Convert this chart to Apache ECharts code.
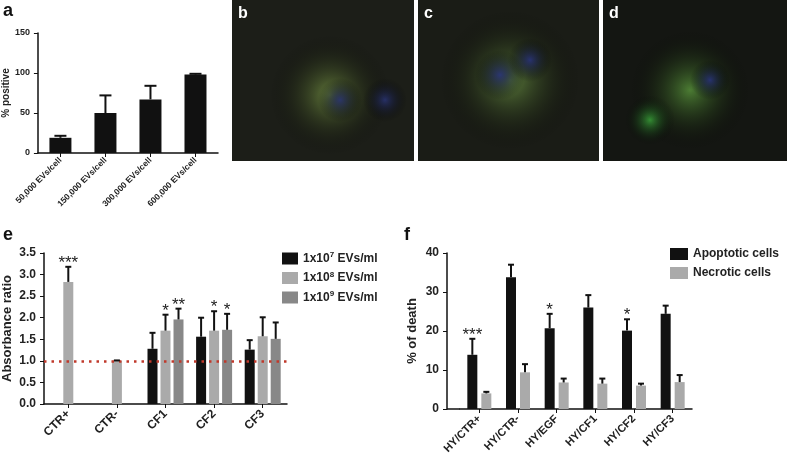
<!DOCTYPE html>
<html><head><meta charset="utf-8">
<script src="https://cdn.jsdelivr.net/npm/echarts@6/dist/echarts.min.js"></script>
<style>html,body{margin:0;padding:0;background:#fff}#c{width:787px;height:461px}</style>
</head><body><div id="c"></div>
<script>
// Panel a
var aCats = ['50,000 EVs/cell','150,000 EVs/cell','300,000 EVs/cell','600,000 EVs/cell'];
var aMean = [19, 50, 67, 98];
var aErr  = [21.5, 72, 84, 99];
// Panel e
var eCats = ['CTR+','CTR-','CF1','CF2','CF3'];
var eNames = ['1x10{s|7} EVs/ml','1x10{s|8} EVs/ml','1x10{s|9} EVs/ml'];
var eMean = [[null,null,1.28,1.56,1.26],[2.83,1.0,1.70,1.70,1.57],[null,null,1.96,1.72,1.51]];
var eErr  = [[null,null,1.65,2.00,1.48],[3.18,1.01,2.07,2.15,2.01],[null,null,2.21,2.09,1.89]];
var eStars= [['','','','',''],['***','','*','*',''],['','','**','*','']];
// Panel f
var fCats = ['HY/CTR+','HY/CTR-','HY/EGF','HY/CF1','HY/CF2','HY/CF3'];
var fNames = ['Apoptotic cells','Necrotic cells'];
var fMean = [[13.9,33.8,20.7,26.0,20.1,24.4],[4.0,9.4,6.8,6.5,6.0,6.9]];
var fErr  = [[18.0,37.0,24.4,29.2,23.0,26.5],[4.4,11.5,7.8,7.8,6.5,8.7]];
var fStars= [['***','','*','','*',''],['','','','','','']];

var F = 'Liberation Sans, Arial, sans-serif';
var eCol = ['#111','#aaaaaa','#888888'];
var fCol = ['#111','#aaaaaa'];

function errSeries(name, xi, yi, means, errs, stars, offset, cap, color) {
  var data = [];
  means.forEach(function(m,i){ if(m!=null) data.push([i,m,errs[i],stars?stars[i]:'']); });
  return {
    type:'custom', name:name+'_err', xAxisIndex:xi, yAxisIndex:yi, z:5, silent:true,
    data:data,
    renderItem:function(params, api){
      var p0 = api.coord([api.value(0), api.value(1)]);
      var p1 = api.coord([api.value(0), api.value(2)]);
      var x = p0[0]+offset;
      var st = data[params.dataIndex][3];
      var ch = [
        {type:'line', shape:{x1:x,y1:p0[1],x2:x,y2:p1[1]}, style:{stroke:color,lineWidth:2}},
        {type:'line', shape:{x1:x-cap/2,y1:p1[1],x2:x+cap/2,y2:p1[1]}, style:{stroke:color,lineWidth:2}}
      ];
      if (st) ch.push({type:'text', style:{text:st,x:x,y:p1[1]+5,align:'center',verticalAlign:'bottom',font:'17px '+F,fill:'#222'}});
      return {type:'group', children:ch};
    }
  };
}

var axisLbl = {color:'#222', fontFamily:F, fontWeight:'bold', fontSize:10};
var axLine = {show:true, lineStyle:{color:'#111', width:1.5}};
var series = [];

series.push({type:'bar', name:'a', xAxisIndex:0, yAxisIndex:0, data:aMean, barWidth:22, itemStyle:{color:'#111'}});
series.push(errSeries('a',0,0,aMean,aErr,null,0,12,'#111'));
for (var k=0;k<3;k++){
  series.push({type:'bar', name:eNames[k], xAxisIndex:1, yAxisIndex:1, data:eMean[k], barWidth:10, barGap:'30%', itemStyle:{color:eCol[k]}});
}
for (var k=0;k<3;k++){
  series.push(errSeries('e'+k,1,1,eMean[k],eErr[k],eStars[k],(k-1)*13,6,'#111'));
}
series[2].markLine = {silent:true, symbol:'none', label:{show:false},
  lineStyle:{color:'#c0392b', type:[2.5,5], width:2.5}, data:[{yAxis:1}]};
for (var k=0;k<2;k++){
  series.push({type:'bar', name:fNames[k], xAxisIndex:2, yAxisIndex:2, data:fMean[k], barWidth:10, barGap:'40%', itemStyle:{color:fCol[k]}});
}
for (var k=0;k<2;k++){
  series.push(errSeries('f'+k,2,2,fMean[k],fErr[k],fStars[k],(k-0.5)*14,6,'#111'));
}

function blob(cx,cy,rx,ry,c){return {type:'ellipse',shape:{cx:cx,cy:cy,rx:rx,ry:ry},style:{fill:{type:'radial',x:0.5,y:0.5,r:0.5,colorStops:[{offset:0,color:c},{offset:1,color:'rgba(0,0,0,0)'}]}}};}
var graphics = [
  {type:'rect', shape:{x:232,y:0,width:182,height:161}, style:{fill:'#1c1e18'}},
  {type:'rect', shape:{x:418,y:0,width:181,height:161}, style:{fill:'#1a1c16'}},
  {type:'rect', shape:{x:603,y:0,width:184,height:161}, style:{fill:'#141612'}},
  blob(330,95,80,60,'rgba(120,150,70,0.8)'), blob(340,100,25,22,'rgba(40,50,110,0.9)'), blob(385,100,22,22,'rgba(40,50,110,0.9)'),
  blob(510,80,90,70,'rgba(110,150,70,0.8)'), blob(500,75,25,28,'rgba(40,50,120,0.9)'), blob(530,60,22,30,'rgba(40,50,120,0.9)'),
  blob(690,90,60,60,'rgba(90,150,60,0.8)'), blob(710,80,20,20,'rgba(40,50,120,0.9)'), blob(650,120,30,25,'rgba(60,170,60,0.8)'),
  {type:'text', style:{text:'b',x:238,y:6,font:'bold 16px '+F,fill:'#fff'}},
  {type:'text', style:{text:'c',x:424,y:6,font:'bold 16px '+F,fill:'#fff'}},
  {type:'text', style:{text:'d',x:609,y:6,font:'bold 16px '+F,fill:'#fff'}},
  {type:'text', style:{text:'a',x:3,y:2,font:'bold 18px '+F,fill:'#111'}},
  {type:'text', style:{text:'e',x:3,y:226,font:'bold 18px '+F,fill:'#111'}},
  {type:'text', style:{text:'f',x:404,y:226,font:'bold 18px '+F,fill:'#111'}},
  {type:'line', shape:{x1:447,y1:409,x2:460,y2:409}, style:{stroke:'#111',lineWidth:1.5}}
];

var opt = {
  animation:false,
  textStyle:{fontFamily:F},
  grid:[
    {left:37, top:33, width:181, height:120},
    {left:42, top:253, width:245, height:151},
    {left:460, top:253, width:232, height:156}
  ],
  xAxis:[
    {type:'category', gridIndex:0, data:aCats, axisLine:axLine, axisTick:{show:true,alignWithLabel:true,length:4,lineStyle:{color:'#111'}}, axisLabel:Object.assign({},axisLbl,{rotate:45,fontSize:8.5,margin:6,interval:0})},
    {type:'category', gridIndex:1, data:eCats, axisLine:axLine, axisTick:{show:true,alignWithLabel:true,length:4,lineStyle:{color:'#111'}}, axisLabel:Object.assign({},axisLbl,{rotate:45,fontSize:12,margin:8,interval:0})},
    {type:'category', gridIndex:2, data:fCats, axisLine:axLine, axisTick:{show:true,alignWithLabel:true,length:4,lineStyle:{color:'#111'}}, axisLabel:Object.assign({},axisLbl,{rotate:45,fontSize:11,margin:8,interval:0})}
  ],
  yAxis:[
    {type:'value', gridIndex:0, min:0, max:150, interval:50, splitLine:{show:false}, axisLine:axLine, axisTick:{show:true,length:4,lineStyle:{color:'#111'}}, axisLabel:Object.assign({},axisLbl,{fontSize:9}),
      name:'% positive', nameLocation:'middle', nameGap:25, nameTextStyle:{fontFamily:F,fontWeight:'bold',fontSize:10,color:'#222'}},
    {type:'value', gridIndex:1, min:0, max:3.5, interval:0.5, splitLine:{show:false}, axisLine:axLine, axisTick:{show:true,length:4,lineStyle:{color:'#111'}}, axisLabel:Object.assign({},axisLbl,{fontSize:12,formatter:function(v){return v.toFixed(1);}}),
      name:'Absorbance ratio', nameLocation:'middle', nameGap:30, nameTextStyle:{fontFamily:F,fontWeight:'bold',fontSize:13,color:'#222'}},
    {type:'value', gridIndex:2, min:0, max:40, interval:10, offset:13, splitLine:{show:false}, axisLine:axLine, axisTick:{show:true,length:4,lineStyle:{color:'#111'}}, axisLabel:Object.assign({},axisLbl,{fontSize:12}),
      name:'% of death', nameLocation:'middle', nameGap:28, nameTextStyle:{fontFamily:F,fontWeight:'bold',fontSize:13,color:'#222'}}
  ],
  legend:[
    {data:eNames, left:277, top:246, orient:'vertical', itemWidth:16, itemHeight:12, itemGap:6, icon:'rect',
      textStyle:{fontSize:12,fontWeight:'bold',color:'#222',fontFamily:F,rich:{s:{fontSize:8,fontWeight:'bold',fontFamily:F,color:'#222',verticalAlign:'top',padding:[0,0,7,0]}}}},
    {data:fNames, left:665, top:243, orient:'vertical', itemWidth:18, itemHeight:12, itemGap:7, icon:'rect',
      textStyle:{fontSize:12,fontWeight:'bold',color:'#222',fontFamily:F}}
  ],
  graphic:graphics,
  series:series
};
echarts.init(document.getElementById('c')).setOption(opt);
</script></body></html>
